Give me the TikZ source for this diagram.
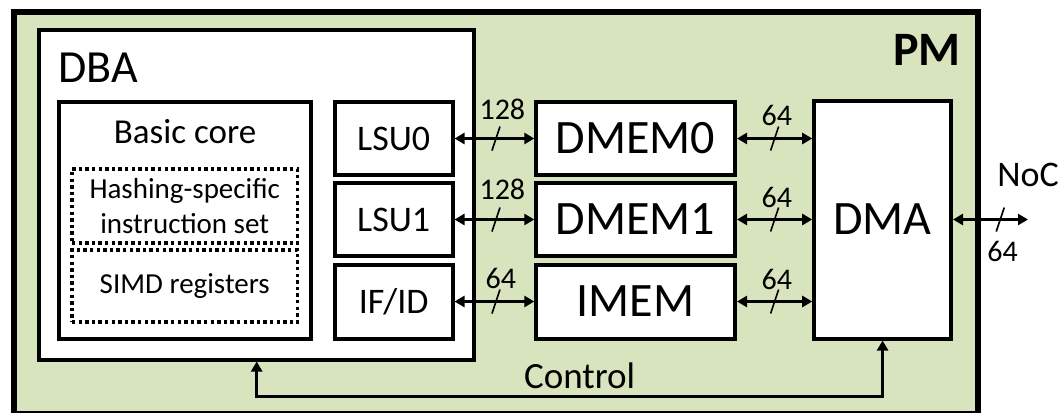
\documentclass[tikz,border=0pt]{standalone}
\usepackage{fontspec}
\setmainfont{Carlito}
\usepackage{tikz}
\usetikzlibrary{arrows.meta,positioning}
\usepackage{xcolor}
\definecolor{pmgreen}{HTML}{D7E4BD}

\begin{document}
\begin{tikzpicture}[
  x=0.5pt, y=-0.5pt,
  font=\fontsize{18}{21}\selectfont,
  box/.style={draw, line width=2pt, fill=white, inner sep=0pt},
  unit/.style={box, minimum width=58.8pt},
  mem/.style={box, minimum width=99.35pt, font=\fontsize{24}{28}\selectfont},
  dotbox/.style={draw, line width=1.6pt, dash pattern=on 1.7pt off 1.6pt, minimum width=112.75pt,
                 align=center, inner sep=0pt, font=\fontsize{14.5}{17.5}\selectfont},
  lbl/.style={inner sep=0pt, font=\fontsize{15}{17}\selectfont},
  link/.style={draw, line width=1.5pt,
               {Triangle[length=5pt,width=5.5pt]}-{Triangle[length=5pt,width=5.5pt]}},
  pics/slash/.style={code={\draw[line width=0.8pt, -] (-2pt,-6pt) -- (2pt,6pt);}}
]
\clip (0,0) rectangle (1062,413);

\node[draw, line width=3.2pt, fill=pmgreen, minimum width=482pt, minimum height=201.4pt] (pm) at (496.25,213.1) {};
\node[inner sep=0pt, anchor=east, font=\bfseries\fontsize{24}{28}\selectfont] (pmlbl) at (961,50) {PM};

\node[box, minimum width=217.5pt, minimum height=164.85pt] (dba) at (256.7,194.65) {};
\node[inner sep=0pt, anchor=west, font=\fontsize{23}{27}\selectfont] (dbalbl) at (58,67.5) {DBA};

\node[box, minimum width=126.15pt, minimum height=118.5pt] (core) at (184.65,220) {};
\node[inner sep=0pt, anchor=base, font=\fontsize{17.5}{21}\selectfont] (corelbl) at (185,143.3) {Basic core};
\node[dotbox, minimum height=37pt] (hash) at (184.75,206) {Hashing-specific\\instruction set};
\node[dotbox, minimum height=36pt] (simd) at (184.75,286) {SIMD registers};

\node[unit, minimum height=36.5pt]  (lsu0) at (393.7,138.5) {LSU0};
\node[unit, minimum height=36.25pt] (lsu1) at (393.7,219.5) {LSU1};
\node[unit, minimum height=37pt]    (ifid) at (393.7,301.5) {IF/ID};

\node[mem, minimum height=36.5pt]  (dmem0) at (635.65,138.5) {DMEM0};
\node[mem, minimum height=36.25pt] (dmem1) at (635.65,219.5) {DMEM1};
\node[mem, minimum height=37pt]    (imem)  at (635.65,301.5) {IMEM};

\node[box, minimum width=68.4pt, minimum height=119pt, font=\fontsize{24}{28}\selectfont] (dma) at (882.6,219.5) {DMA};
\coordinate (noc) at (1028,219.5);

\draw[link] (lsu0) -- pic[pos=.52]{slash} node[lbl, pos=.6, yshift=14.5pt] {128} (dmem0);
\draw[link] (lsu1) -- pic[pos=.52]{slash} node[lbl, pos=.6, yshift=15pt] {128} (dmem1);
\draw[link] (ifid) -- pic[pos=.52]{slash} node[lbl, pos=.58, yshift=11.5pt] {64} (imem);

\draw[link] (dmem0) -- pic[pos=.5]{slash} node[lbl, pos=.53, yshift=11.5pt] {64} (dmem0 -| dma.west);
\draw[link] (dmem1) -- pic[pos=.5]{slash} node[lbl, pos=.53, yshift=11pt] {64} (dmem1 -| dma.west);
\draw[link] (imem)  -- pic[pos=.5]{slash} node[lbl, pos=.53, yshift=11pt] {64} (imem -| dma.west);

\draw[link] (dma) -- pic[pos=.63]{slash} node[lbl, pos=.66, yshift=-15.8pt] {64} (noc);
\node[lbl, font=\fontsize{18}{21}\selectfont, above=16.4pt of noc] (noclbl) {NoC};

\draw[link, line width=1.6pt] (dba.south) -- ++(0,35.2) -| node[lbl, pos=.258, above=3.3pt, font=\fontsize{18.5}{21}\selectfont] {Control} (dma.south);
\end{tikzpicture}
\end{document}
